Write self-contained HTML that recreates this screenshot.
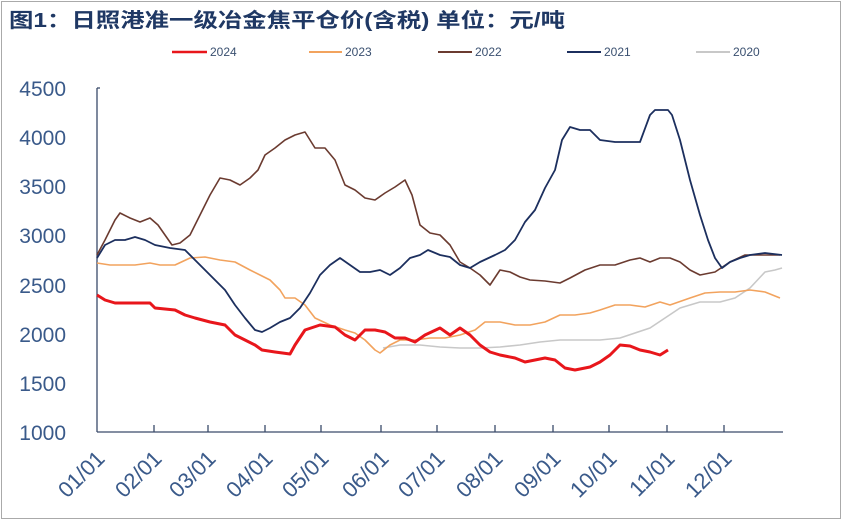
<!DOCTYPE html>
<html><head><meta charset="utf-8"><style>
html,body{margin:0;padding:0;background:#fff;}
svg{display:block;}
</style></head><body>
<svg width="844" height="520" viewBox="0 0 844 520" xmlns="http://www.w3.org/2000/svg">
<rect x="1.5" y="1.5" width="839" height="517" fill="#fff" stroke="#aaa" stroke-width="1"/>
<text x="9" y="27" font-family="Liberation Sans, Noto Sans CJK SC, sans-serif" font-size="20" font-weight="bold" fill="#1f3864" textLength="556" lengthAdjust="spacingAndGlyphs">图1：日照港准一级冶金焦平仓价(含税)  单位：元/吨</text>
<g font-family="Liberation Sans, sans-serif" font-size="12" fill="#3a5070">
<line x1="172" y1="52" x2="207" y2="52" stroke="#e8161b" stroke-width="2.5"/><text x="210" y="56">2024</text>
<line x1="309" y1="52" x2="342" y2="52" stroke="#f2a35e" stroke-width="2"/><text x="345" y="56">2023</text>
<line x1="438" y1="52" x2="472" y2="52" stroke="#6b3b30" stroke-width="2"/><text x="475" y="56">2022</text>
<line x1="567" y1="52" x2="601" y2="52" stroke="#1c2f5e" stroke-width="2"/><text x="604" y="56">2021</text>
<line x1="696" y1="52" x2="730" y2="52" stroke="#c8c8c8" stroke-width="2"/><text x="733" y="56">2020</text>
</g>
<g font-family="Liberation Sans, sans-serif" font-size="21" fill="#3a5a8a" text-anchor="end">
<text x="66" y="96">4500</text><text x="66" y="145">4000</text><text x="66" y="194">3500</text>
<text x="66" y="243">3000</text><text x="66" y="293">2500</text><text x="66" y="342">2000</text>
<text x="66" y="391">1500</text><text x="66" y="440">1000</text>
</g>
<g stroke="#3a4a6a" stroke-width="1.3" fill="none">
<line x1="97" y1="88" x2="97" y2="432"/>
<line x1="97" y1="432" x2="783" y2="432"/>
<line x1="97" y1="88" x2="100" y2="88"/>
<line x1="154" y1="425" x2="154" y2="432"/><line x1="208" y1="425" x2="208" y2="432"/>
<line x1="265" y1="425" x2="265" y2="432"/><line x1="321" y1="425" x2="321" y2="432"/>
<line x1="381" y1="425" x2="381" y2="432"/><line x1="437" y1="425" x2="437" y2="432"/>
<line x1="495" y1="425" x2="495" y2="432"/><line x1="553" y1="425" x2="553" y2="432"/>
<line x1="609" y1="425" x2="609" y2="432"/><line x1="667" y1="425" x2="667" y2="432"/>
<line x1="724" y1="425" x2="724" y2="432"/>
</g>
<g font-family="Liberation Sans, sans-serif" font-size="22" fill="#3a5a8a" text-anchor="end">
<text transform="translate(106,460) rotate(-45)">01/01</text>
<text transform="translate(163,460) rotate(-45)">02/01</text>
<text transform="translate(217,460) rotate(-45)">03/01</text>
<text transform="translate(274,460) rotate(-45)">04/01</text>
<text transform="translate(330,460) rotate(-45)">05/01</text>
<text transform="translate(390,460) rotate(-45)">06/01</text>
<text transform="translate(446,460) rotate(-45)">07/01</text>
<text transform="translate(504,460) rotate(-45)">08/01</text>
<text transform="translate(562,460) rotate(-45)">09/01</text>
<text transform="translate(618,460) rotate(-45)">10/01</text>
<text transform="translate(676,460) rotate(-45)">11/01</text>
<text transform="translate(733,460) rotate(-45)">12/01</text>
</g>
<g fill="none" stroke-linejoin="round">
<polyline stroke="#c8c8c8" stroke-width="1.6" points="383,348 400,345 420,345 440,347 460,348 480,348 500,347 520,345 540,342 560,340 580,340 600,340 620,338 635,333 650,328 665,318 680,308 700,302 720,302 735,298 750,288 765,272 775,270 782,268"/>
<polyline stroke="#f2a35e" stroke-width="1.6" points="97,263 110,265 120,265 135,265 150,263 160,265 175,265 190,258 205,257 220,260 235,262 250,270 260,275 270,280 280,290 285,298 295,298 305,305 315,318 330,325 345,330 355,333 365,340 375,350 380,353 390,345 400,340 415,340 430,338 445,338 460,335 475,330 485,322 500,322 515,325 530,325 545,322 560,315 575,315 590,313 600,310 615,305 630,305 645,307 660,302 670,305 690,298 705,293 720,292 735,292 750,290 765,292 780,298"/>
<polyline stroke="#6b3b30" stroke-width="1.6" points="97,255 105,240 115,220 120,213 130,218 140,222 150,218 158,225 165,235 172,245 180,243 190,235 200,215 210,195 220,178 230,180 240,185 250,178 258,170 265,155 275,148 285,140 295,135 305,132 315,148 325,148 335,160 345,185 355,190 365,198 375,200 385,193 395,187 405,180 412,195 420,225 430,233 440,235 450,245 460,262 470,268 480,275 490,285 500,270 510,272 520,277 530,280 545,281 560,283 570,278 585,270 600,265 615,265 630,260 640,258 650,262 660,258 670,258 680,262 690,270 700,275 715,272 730,262 745,255 760,255 780,255"/>
<polyline stroke="#1c2f5e" stroke-width="1.8" points="97,258 105,245 115,240 125,240 135,237 145,240 155,245 170,248 185,250 195,260 205,270 215,280 225,290 235,305 245,318 255,330 262,332 270,328 280,322 290,318 300,308 310,293 320,275 330,265 340,258 350,265 360,272 370,272 380,270 390,275 400,268 410,258 420,255 428,250 440,255 450,257 460,265 470,268 480,262 495,255 505,250 515,240 525,222 535,210 545,188 555,170 562,140 570,127 580,130 590,130 600,140 615,142 630,142 640,142 650,115 655,110 668,110 672,115 680,140 690,180 700,215 708,240 715,258 722,268 730,262 740,258 750,255 765,253 782,255"/>
<polyline stroke="#e8161b" stroke-width="3" points="97,295 105,300 115,303 150,303 155,308 175,310 185,315 195,318 210,322 225,325 235,335 245,340 255,345 262,350 275,352 290,354 295,345 305,330 320,325 335,327 345,335 355,340 365,330 375,330 385,332 395,338 405,338 415,342 425,335 440,328 450,335 460,328 470,335 480,345 490,352 500,355 515,358 525,362 535,360 545,358 555,360 565,368 575,370 590,367 600,362 610,355 620,345 630,346 640,350 650,352 660,355 668,350"/>
</g>
</svg>
</body></html>
